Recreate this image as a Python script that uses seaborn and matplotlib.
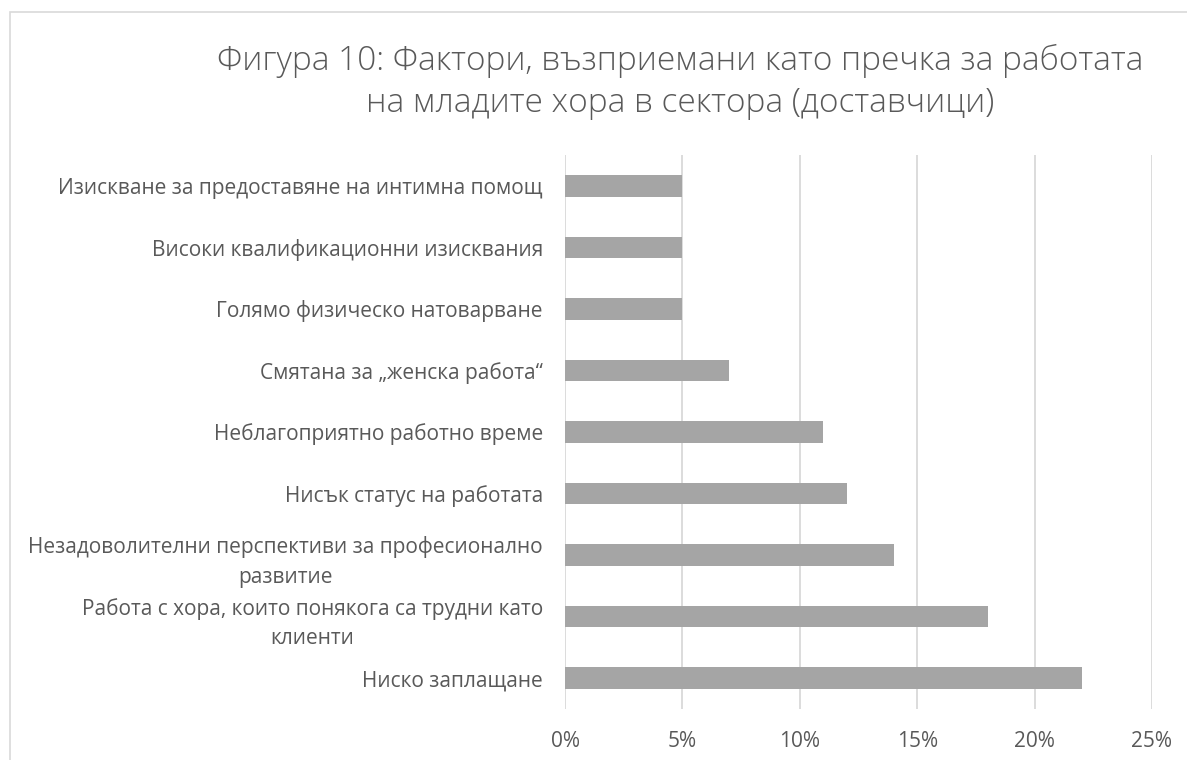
import matplotlib
matplotlib.use("Agg")
import matplotlib.pyplot as plt
import seaborn as sns
import pandas as pd
from matplotlib.patches import Rectangle
from matplotlib.ticker import FuncFormatter, MultipleLocator

categories = [
    "Изискване за предоставяне на интимна помощ",
    "Високи квалификационни изисквания",
    "Голямо физическо натоварване",
    "Смятана за „женска работа“",
    "Неблагоприятно работно време",
    "Нисък статус на работата",
    "Незадоволителни перспективи за професионално\nразвитие",
    "Работа с хора, които понякога са трудни като\nклиенти",
    "Ниско заплащане",
]
values = [5, 5, 5, 7, 11, 12, 14, 18, 22]
title = "Фигура 10: Фактори, възприемани като пречка за работата\nна младите хора в сектора (доставчици)"

sns.set_theme(style="white")
plt.rcParams['font.family'] = ['Open Sans', 'DejaVu Sans']

W, H = 1187, 760
fig = plt.figure(figsize=(W / 100, H / 100), dpi=100)
fig.patch.set_facecolor("white")
ax = fig.add_axes([565 / W, 1 - 709 / H, (1152 - 565) / W, (709 - 155) / H])

df = pd.DataFrame({"cat": categories, "val": values})
sns.barplot(data=df, x="val", y="cat", orient="h", color="#A5A5A5",
            width=0.35, saturation=1, linewidth=0, ax=ax)

ax.set_xlim(0, 25)
ax.xaxis.set_major_locator(MultipleLocator(5))
ax.xaxis.set_major_formatter(FuncFormatter(lambda v, p: f"{v:.0f}%"))
ax.grid(axis="x", color="#D9D9D9", linewidth=1.3)
ax.set_axisbelow(True)
for s in ax.spines.values():
    s.set_visible(False)
ax.set_xlabel("")
ax.set_ylabel("")
ax.tick_params(axis="both", length=0, colors="#595959", labelsize=15)
ax.tick_params(axis="x", pad=16)
ax.tick_params(axis="y", pad=16)
for lbl in ax.get_yticklabels():
    lbl.set_multialignment("center")
    lbl.set_linespacing(1.55)
    lbl.set_color("#595959")

fig.text(680 / W, 1 - 82 / H, title, ha="center", va="center", fontsize=24,
         color="#595959", fontweight="light", linespacing=1.35)

fig.patches.append(Rectangle((10 / W, -0.1), 1.2, (H - 12) / H + 0.1,
                             transform=fig.transFigure, fill=False,
                             edgecolor="#D9D9D9", linewidth=1.2))

fig.savefig("out.png", dpi=100)
